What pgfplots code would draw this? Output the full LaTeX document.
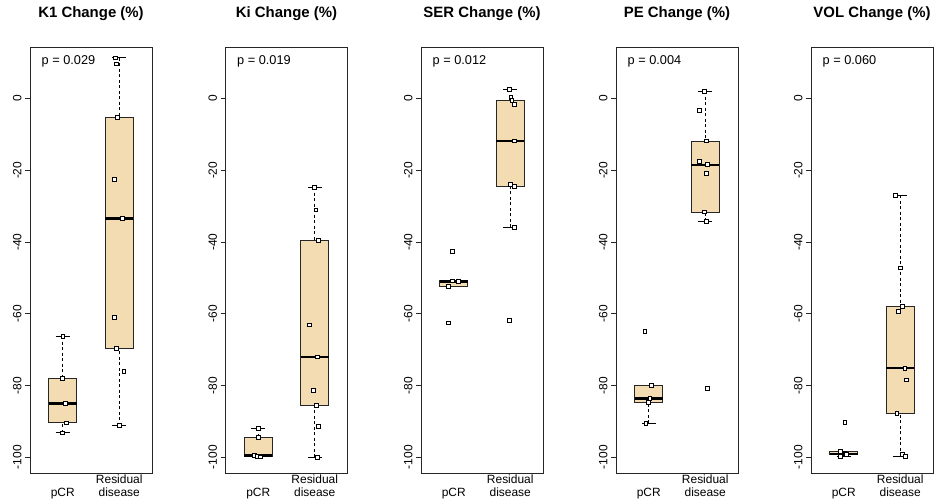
\documentclass[border=0pt]{standalone}
\usepackage{fontspec}
\setmainfont{Liberation Sans}
\usepackage{pgfplots}
\pgfplotsset{compat=1.18}
\usepgfplotslibrary{statistics}
\definecolor{boxfill}{HTML}{F3DCB1}

\pgfplotsset{
  boxplot/draw/lower whisker/.code={%
    \draw[dash pattern=on 3bp off 2.5bp, line width=0.7bp]
      (boxplot box cs:\pgfplotsboxplotvalue{lower whisker},0.5) --
      (boxplot box cs:\pgfplotsboxplotvalue{lower quartile},0.5);
    \draw[line width=0.8bp]
      (boxplot whisker cs:\pgfplotsboxplotvalue{lower whisker},0) --
      (boxplot whisker cs:\pgfplotsboxplotvalue{lower whisker},1);
  },
  boxplot/draw/upper whisker/.code={%
    \draw[dash pattern=on 3bp off 2.5bp, line width=0.7bp]
      (boxplot box cs:\pgfplotsboxplotvalue{upper whisker},0.5) --
      (boxplot box cs:\pgfplotsboxplotvalue{upper quartile},0.5);
    \draw[line width=0.8bp]
      (boxplot whisker cs:\pgfplotsboxplotvalue{upper whisker},0) --
      (boxplot whisker cs:\pgfplotsboxplotvalue{upper whisker},1);
  },
  panel/.style={
    scale only axis, width=122bp, height=426bp,
    anchor=south west,
    xmin=0.42, xmax=2.58, ymin=-104.4, ymax=14.4,
    axis line style={line width=0.8bp, black!85},
    xtick={1,2},
    xticklabels={{\strut\\pCR},{\strut Residual\\disease}},
    xtick style={draw=none},
    xticklabel style={align=center, anchor=north, inner sep=0pt, yshift=-1.5bp,
      font=\fontsize{12}{13}\selectfont},
    ytick={-100,-80,-60,-40,-20,0},
    yticklabels={-100,-80,-60,-40,-20,0},
    ytick align=outside, ytick pos=left,
    major tick length=5bp,
    ytick style={line width=0.8bp, black!85},
    yticklabel style={rotate=90, anchor=south, font=\fontsize{12}{13}\selectfont},
    title style={font=\bfseries\fontsize{15}{18}\selectfont, at={(0.5,1)}, anchor=base, yshift=23.5bp},
    boxplot/draw direction=y,
    boxplot/box extend=0.5,
    boxplot/whisker extend=0.25,
    boxplot/every median/.style={line width=2.2bp, black},
    boxplot/every box/.style={line width=0.8bp, draw=black!85, fill=boxfill},
  },
  pts/.style={only marks, mark=square*, mark size=1.9bp,
    mark options={fill=white, draw=black, line width=0.7bp, solid}},
}
\newcommand{\pval}[1]{\node[anchor=west, inner sep=0pt, font=\fontsize{12.8}{14}\selectfont] at (axis description cs:0.094,0.967) {#1};}

\begin{document}
\begin{tikzpicture}
\useasboundingbox (0,0) rectangle (935bp,504bp);

% K1
\begin{axis}[panel, at={(30bp,31bp)}, title={K1 Change (\%)}]
\addplot[boxplot prepared={draw position=1, lower whisker=-93.2, lower quartile=-90.4, median=-85.0, upper quartile=-78.1, upper whisker=-66.2}] coordinates {};
\addplot[boxplot prepared={draw position=2, lower whisker=-91.2, lower quartile=-69.6, median=-33.4, upper quartile=-5.3, upper whisker=11.4}] coordinates {};
\addplot[pts] coordinates {(1.00,-66.2) (0.99,-78.1) (1.04,-85.0) (1.06,-90.4) (0.99,-93.2)};
\addplot[pts] coordinates {(1.93,11.4) (1.95,9.7) (1.965,-5.3) (1.91,-22.4) (2.06,-33.4) (1.91,-61.1) (1.95,-69.6) (2.08,-76.0) (2.00,-91.2)};
\pval{p = 0.029}
\end{axis}

% Ki
\begin{axis}[panel, at={(225.5bp,31bp)}, title={Ki Change (\%)}]
\addplot[boxplot prepared={draw position=1, lower whisker=-99.9, lower quartile=-99.7, median=-99.5, upper quartile=-94.4, upper whisker=-91.9}] coordinates {};
\addplot[boxplot prepared={draw position=2, lower whisker=-100.0, lower quartile=-85.6, median=-72.0, upper quartile=-39.5, upper whisker=-24.7}] coordinates {};
\addplot[pts] coordinates {(1.00,-91.9) (1.00,-94.4) (0.93,-99.5) (0.98,-99.7) (1.03,-99.9)};
\addplot[pts] coordinates {(2.00,-24.7) (2.02,-31.0) (2.07,-39.5) (1.91,-63.1) (2.04,-72.0) (1.98,-81.3) (2.03,-85.6) (2.07,-91.4) (2.04,-100.0)};
\pval{p = 0.019}
\end{axis}

% SER
\begin{axis}[panel, at={(421bp,31bp)}, title={SER Change (\%)}]
\addplot[boxplot prepared={draw position=1, lower whisker=-52.4, lower quartile=-52.4, median=-51.0, upper quartile=-50.8, upper whisker=-50.8}] coordinates {};
\addplot[boxplot prepared={draw position=2, lower whisker=-35.9, lower quartile=-24.4, median=-11.8, upper quartile=-0.4, upper whisker=2.6}] coordinates {};
\addplot[pts] coordinates {(0.98,-42.6) (0.97,-50.8) (1.08,-51.0) (0.91,-52.4) (0.91,-62.5)};
\addplot[pts] coordinates {(1.98,2.6) (2.01,0.4) (2.03,-0.4) (2.07,-1.5) (2.07,-11.8) (2.00,-23.9) (2.07,-24.4) (2.07,-35.9) (1.98,-61.8)};
\pval{p = 0.012}
\end{axis}

% PE
\begin{axis}[panel, at={(616bp,31bp)}, title={PE Change (\%)}]
\addplot[boxplot prepared={draw position=1, lower whisker=-90.5, lower quartile=-84.7, median=-83.6, upper quartile=-79.9, upper whisker=-79.9}] coordinates {};
\addplot[boxplot prepared={draw position=2, lower whisker=-34.2, lower quartile=-31.6, median=-18.4, upper quartile=-11.8, upper whisker=2.0}] coordinates {};
\addplot[pts] coordinates {(0.93,-64.8) (1.04,-79.9) (1.02,-83.6) (0.99,-84.7) (0.95,-90.5)};
\addplot[pts] coordinates {(1.98,2.0) (1.90,-3.2) (2.02,-11.8) (1.90,-17.6) (2.04,-18.4) (2.02,-20.8) (1.99,-31.6) (2.02,-34.2) (2.04,-80.8)};
\pval{p = 0.004}
\end{axis}

% VOL
\begin{axis}[panel, at={(811bp,31bp)}, title={VOL Change (\%)}]
\addplot[boxplot prepared={draw position=1, lower whisker=-99.7, lower quartile=-99.3, median=-99.0, upper quartile=-98.4, upper whisker=-98.4}] coordinates {};
\addplot[boxplot prepared={draw position=2, lower whisker=-99.7, lower quartile=-87.8, median=-75.2, upper quartile=-57.9, upper whisker=-27.0}] coordinates {};
\addplot[pts] coordinates {(1.02,-90.3) (0.94,-98.4) (1.02,-99.0) (1.05,-99.3) (0.94,-99.7)};
\addplot[pts] coordinates {(1.92,-27.0) (2.00,-47.2) (2.04,-57.9) (1.96,-59.4) (2.08,-75.2) (2.11,-78.4) (1.94,-87.8) (2.04,-99.3) (2.09,-99.7)};
\pval{p = 0.060}
\end{axis}
\end{tikzpicture}
\end{document}
